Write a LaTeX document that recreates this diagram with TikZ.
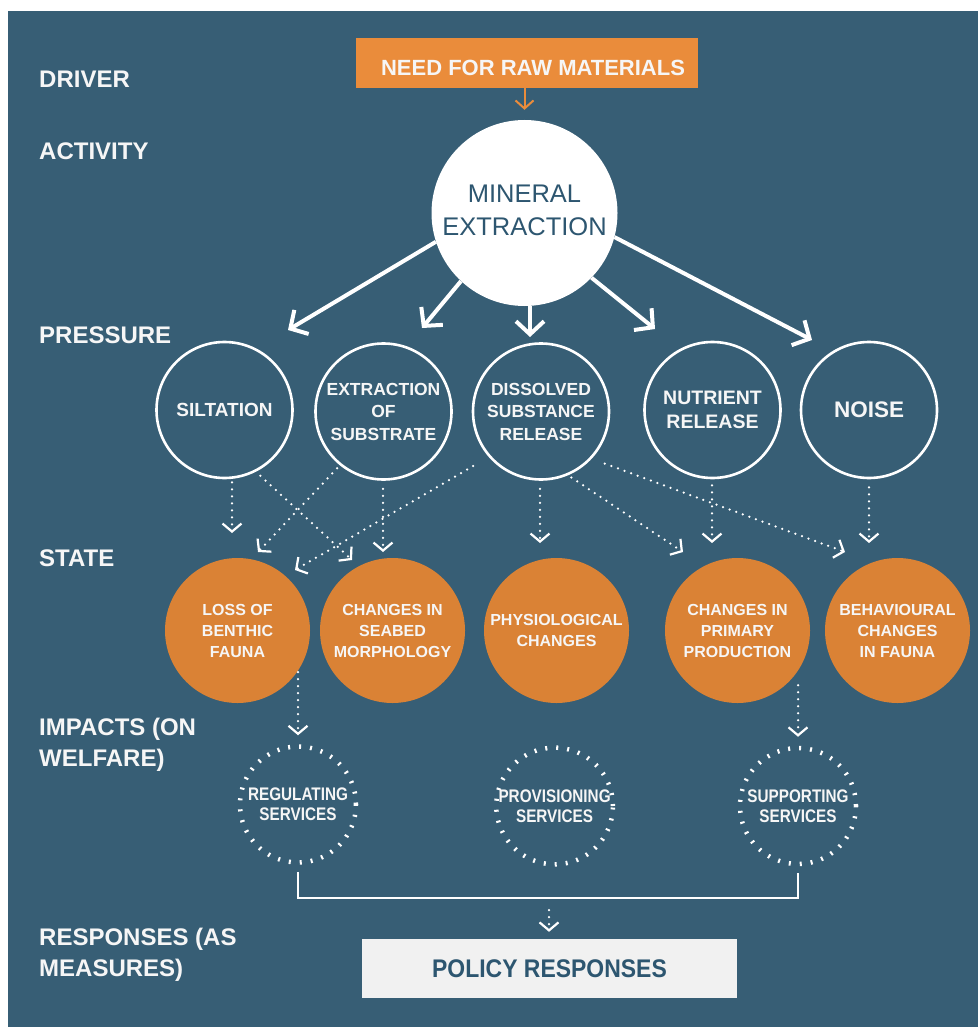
\documentclass[tikz,border=0pt]{standalone}
\usepackage{fontspec}
\setmainfont{Liberation Sans}
\newfontfamily\condfont[FakeStretch=0.84]{Liberation Sans}
\newfontfamily\polfont[FakeStretch=0.9]{Liberation Sans}
\usetikzlibrary{arrows.meta}
\definecolor{bg}{RGB}{55,94,117}
\definecolor{boxor}{RGB}{234,140,59}
\definecolor{stor}{RGB}{218,130,53}
\definecolor{pgray}{RGB}{241,241,241}
\definecolor{txtw}{RGB}{246,246,246}
\definecolor{dtxt}{RGB}{45,86,112}
\begin{document}
\begin{tikzpicture}[x=1pt,y=-1pt,
  lbl/.style={anchor=base west, text=txtw, font=\bfseries\fontsize{24}{31}\selectfont, align=left, inner sep=0pt},
  press/.style={circle, draw=white, line width=2.6pt, minimum size=136pt, inner sep=0pt, text=txtw, align=center, font=\bfseries\fontsize{17.5}{22.5}\selectfont},
  statec/.style={circle, fill=stor, minimum size=145pt, inner sep=0pt, text=txtw, align=center, font=\bfseries\fontsize{16}{21}\selectfont},
  impact/.style={circle, draw=white, line width=4.5pt, dash pattern=on 2pt off 9pt, minimum size=116pt, inner sep=0pt, text=txtw, align=center, font=\condfont\bfseries\fontsize{18.2}{20}\selectfont},
  bigarr/.style={draw=white, line width=4pt, -{Straight Barb[length=13pt,width=28pt]}},
  dotarr/.style={draw=white, line width=2.5pt, line cap=round, dash pattern=on 0pt off 7pt, -{Straight Barb[length=8pt,width=19pt,line width=2.2pt]}},
  orarr/.style={draw=boxor, line width=2pt, -{Straight Barb[length=8pt,width=18pt]}},
  bracket/.style={draw=white, line width=2.5pt}
]
\useasboundingbox (0,0) rectangle (978,1027);
\fill[white] (0,0) rectangle (978,1027);
\fill[bg] (8,11) rectangle (978,1027);

% left labels
\node[lbl] (lDriver) at (39,88) {DRIVER};
\node[lbl] (lActivity) at (39,159.5) {ACTIVITY};
\node[lbl] (lPressure) at (39,343.5) {PRESSURE};
\node[lbl] (lState) at (39,566.5) {STATE};
\node[lbl] (lImpacts) at (39,766.5) {IMPACTS (ON\\WELFARE)};
\node[lbl] (lResp) at (39,976.5) {RESPONSES (AS\\MEASURES)};

% driver and activity
\node[rectangle, fill=boxor, minimum width=342pt, minimum height=50pt, inner sep=0pt, text=txtw,
      text height=25pt, text depth=0pt,
      font=\bfseries\fontsize{22}{26}\selectfont] (need) at (527,63) {\hspace*{12pt}NEED FOR RAW MATERIALS};
\node[circle, fill=white, minimum size=186pt, inner sep=0pt, text=dtxt, align=center, text depth=6pt,
      font=\fontsize{25.5}{33}\selectfont] (mineral) at (524.5,213) {MINERAL\\EXTRACTION};

% pressures
\node[press, font=\bfseries\fontsize{19}{22.5}\selectfont] (silt) at (224.5,410) {SILTATION};
\node[press] (extr) at (383.5,411.5) {EXTRACTION\\OF\\SUBSTRATE};
\node[press] (diss) at (541,411.5) {DISSOLVED\\SUBSTANCE\\RELEASE};
\node[press, font=\bfseries\fontsize{19.5}{24}\selectfont] (nutr) at (712.5,410) {NUTRIENT\\RELEASE};
\node[press, font=\bfseries\fontsize{22.5}{24}\selectfont] (noise) at (869,410) {NOISE};

% states
\node[statec] (loss) at (237.5,630.5) {LOSS OF\\BENTHIC\\FAUNA};
\node[statec] (seabed) at (392.5,630.5) {CHANGES IN\\SEABED\\MORPHOLOGY};
\node[statec] (phys) at (556.5,630.5) {PHYSIOLOGICAL\\CHANGES};
\node[statec] (prim) at (737.5,630.5) {CHANGES IN\\PRIMARY\\PRODUCTION};
\node[statec] (behav) at (897.5,630.5) {BEHAVIOURAL\\CHANGES\\IN FAUNA};

% impacts
\node[impact] (reg) at (298,804.5) {REGULATING\\SERVICES};
\node[impact] (prov) at (554.6,806) {PROVISIONING\\SERVICES};
\node[impact] (sup) at (798,806) {SUPPORTING\\SERVICES};

% response
\node[rectangle, fill=pgray, minimum width=375pt, minimum height=59pt, inner sep=0pt, text=dtxt,
      font=\polfont\bfseries\fontsize{25.5}{28}\selectfont] (policy) at (549.5,968.5) {POLICY RESPONSES};

% connectors: driver -> activity
\draw[orarr, shorten >=10pt] (need.south -| mineral.north) -- (mineral.north);

% activity -> pressures
\coordinate (t1) at (288,330);
\coordinate (t2) at (422,328);
\coordinate (t3) at (530,337);
\coordinate (t4) at (655,329);
\coordinate (t5) at (812,340);
\draw[bigarr] (mineral.198) -- (t1);
\draw[bigarr] (mineral.227) -- (t2);
\draw[bigarr] (mineral.south -| t3) -- (t3);
\draw[bigarr] (mineral.316) -- (t4);
\draw[bigarr] (mineral.345) -- (t5);

% pressures -> states
\coordinate (ta) at (232,533);
\coordinate (tb) at (352,560);
\coordinate (tc) at (258,552);
\coordinate (td) at (383,552);
\coordinate (te) at (295,570);
\coordinate (tf) at (540,543);
\coordinate (tg) at (683,552);
\coordinate (th) at (845,552);
\coordinate (ti) at (712,543);
\coordinate (tj) at (869,543);
\draw[dotarr, shorten <=3pt] (silt.south -| ta) -- (ta);
\draw[dotarr, shorten <=6pt] (silt.-63) -- (tb);
\draw[dotarr, shorten <=4pt] (extr.231) -- (tc);
\draw[dotarr, shorten <=8pt] (extr.south -| td) -- (td);
\draw[dotarr, shorten <=18pt] (diss.221) -- (te);
\draw[dotarr, shorten <=8pt] (diss.south -| tf) -- (tf);
\draw[dotarr, shorten <=4pt] (diss.-67) -- (tg);
\draw[dotarr, shorten <=14pt] (diss.-43) -- (th);
\draw[dotarr, shorten <=6pt] (nutr.south -| ti) -- (ti);
\draw[dotarr, shorten <=8pt] (noise.south -| tj) -- (tj);

% states -> impacts
\draw[dotarr, shorten >=9pt] (loss.-35 -| reg.north) -- (reg.north);
\draw[dotarr, shorten <=8pt, shorten >=9pt] (prim.-40 -| sup.north) -- (sup.north);

% impacts -> responses
\coordinate (brk) at (549,898);
\draw[bracket] ([yshift=-7pt]reg.south) |- (brk) -| ([yshift=-7pt]sup.south);
\draw[dotarr, shorten <=12pt, shorten >=7pt] (brk) -- (brk |- policy.north);
\end{tikzpicture}
\end{document}
